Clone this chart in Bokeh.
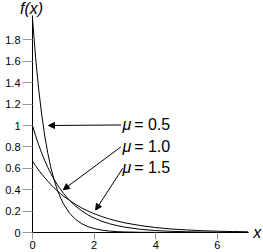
from bokeh.plotting import figure
from bokeh.models import FixedTicker, Range1d, Arrow, NormalHead, Label
from bokeh.core.properties import value
from bokeh.embed import file_html
from bokeh.resources import INLINE

# sample points
x_vals = [0, 0.1, 0.2, 0.3, 0.4, 0.5, 0.6, 0.7, 0.8, 0.9, 1.0, 1.2, 1.4, 1.6, 1.8,
          2.0, 2.25, 2.5, 2.75, 3.0, 3.5, 4.0, 4.5, 5.0, 5.5, 6.0, 6.5, 7.0]
f_mu_05 = [2.000, 1.637, 1.341, 1.098, 0.899, 0.736, 0.602, 0.493, 0.404, 0.331, 0.271,
           0.181, 0.122, 0.082, 0.055, 0.037, 0.022, 0.013, 0.008, 0.005, 0.002, 0.001,
           0.000, 0.000, 0.000, 0.000, 0.000, 0.000]
f_mu_10 = [1.000, 0.905, 0.819, 0.741, 0.670, 0.607, 0.549, 0.497, 0.449, 0.407, 0.368,
           0.301, 0.247, 0.202, 0.165, 0.135, 0.105, 0.082, 0.064, 0.050, 0.030, 0.018,
           0.011, 0.007, 0.004, 0.002, 0.002, 0.001]
f_mu_15 = [0.667, 0.624, 0.583, 0.546, 0.511, 0.478, 0.447, 0.418, 0.391, 0.366, 0.342,
           0.300, 0.262, 0.229, 0.201, 0.176, 0.149, 0.126, 0.107, 0.090, 0.065, 0.046,
           0.033, 0.024, 0.017, 0.012, 0.009, 0.006]
mu_labels = ["0.5", "1.0", "1.5"]

y_ticks = [0, 0.2, 0.4, 0.6, 0.8, 1, 1.2, 1.4, 1.6, 1.8]
y_tick_labels = ["0", "0.2", "0.4", "0.6", "0.8", "1", "1.2", "1.4", "1.6", "1.8"]
x_ticks = [0, 2, 4, 6]
x_tick_labels = ["0", "2", "4", "6"]

FONT = "Liberation Sans"

p = figure(width=263, height=252, output_backend="svg", toolbar_location=None,
           x_range=Range1d(-32 / 30.8, 231 / 30.8), y_range=Range1d(-20 / 107, 232 / 107),
           min_border_left=0, min_border_right=0, min_border_top=0, min_border_bottom=0)
p.outline_line_color = None
p.grid.visible = False
p.background_fill_color = "white"
p.border_fill_color = "white"

# axes (pinned at x=0 / y=0 inside the frame)
yax = p.yaxis[0]
yax.fixed_location = 0
yax.ticker = FixedTicker(ticks=y_ticks)
yax.major_label_overrides = dict(zip(y_ticks, y_tick_labels))
yax.bounds = (0, 2.03)
yax.major_tick_out = 10
yax.major_tick_in = 0
yax.minor_tick_out = 0
yax.minor_tick_in = 0
yax.major_tick_line_color = "#999999"
yax.axis_line_color = "black"
yax.major_label_standoff = 2
yax.major_label_text_font = FONT
yax.major_label_text_font_size = "11px"
yax.major_label_text_color = "black"

xax = p.xaxis[0]
xax.fixed_location = 0
xax.ticker = FixedTicker(ticks=x_ticks)
xax.major_label_overrides = dict(zip(x_ticks, x_tick_labels))
xax.bounds = (0, 7.0)
xax.major_tick_out = 7
xax.major_tick_in = 0
xax.minor_tick_out = 0
xax.minor_tick_in = 0
xax.major_tick_line_color = "#999999"
xax.axis_line_color = "black"
xax.major_label_standoff = 1
xax.major_label_text_font = FONT
xax.major_label_text_font_size = "11px"
xax.major_label_text_color = "black"

# curves
for ys in (f_mu_05, f_mu_10, f_mu_15):
    p.line(x_vals, ys, line_color="black", line_width=1)

# annotations: mu labels
label_y = [1.009, 0.804, 0.607]
p.text(x=[2.92] * 3, y=label_y, text=["μ"] * 3, text_font=value(FONT),
       text_font_style="italic", text_font_size="16px", text_baseline="middle",
       text_align="left", text_color="black")
p.text(x=[3.30] * 3, y=label_y, text=["= " + m for m in mu_labels], text_font=value(FONT),
       text_font_size="16px", text_baseline="middle", text_align="left", text_color="black")

arrows = [((2.88, 1.005), (0.52, 1.0)),
          ((2.87, 0.80), (1.0, 0.40)),
          ((2.93, 0.60), (2.05, 0.21))]
for (xs, ys), (xe, ye) in arrows:
    p.add_layout(Arrow(end=NormalHead(size=6, fill_color="black", line_color="black", line_width=1),
                       x_start=xs, y_start=ys, x_end=xe, y_end=ye,
                       line_color="black", line_width=1))

p.add_layout(Label(x=-0.03, y=2.095, text="f(x)", text_font=FONT, text_font_style="italic",
                   text_font_size="16px", text_align="center", text_baseline="middle",
                   text_color="black"))
p.add_layout(Label(x=7.3, y=0.0, text="x", text_font=FONT, text_font_style="italic",
                   text_font_size="16px", text_align="center", text_baseline="middle",
                   text_color="black"))

open("out.html", "w").write(file_html(p, INLINE))
